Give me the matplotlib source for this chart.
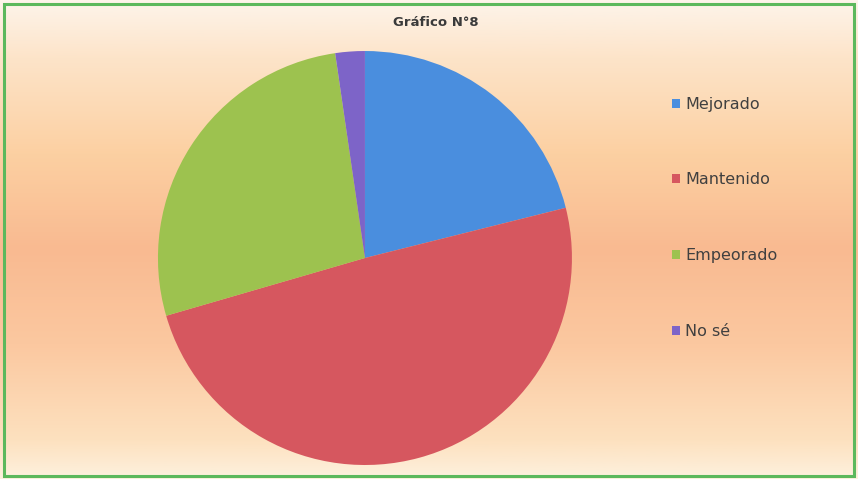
import numpy as np
import matplotlib.pyplot as plt
from matplotlib.colors import LinearSegmentedColormap
from matplotlib.patches import Rectangle

categorias = ["Mejorado", "Mantenido", "Empeorado", "No sé"]
valores = [21.1, 49.4, 27.2, 2.3]
colores = ["#4a8ede", "#d6575f", "#9dc24f", "#7d64c8"]
titulo = "Gráfico N°8"

plt.rcParams['font.family'] = ['DejaVu Sans']

fig = plt.figure(figsize=(8.58, 4.79), dpi=100)

# fondo degradado
bg = fig.add_axes([0, 0, 1, 1])
fondo = LinearSegmentedColormap.from_list("fondo", [
    (0.0, "#fdf4ea"), (0.12, "#fde4c9"), (0.32, "#fcd0a2"),
    (0.52, "#f9ba91"), (0.72, "#fbc8a0"), (0.92, "#fde1bf"), (1.0, "#fdf1de")])
grad = np.linspace(0, 1, 256).reshape(-1, 1)
bg.imshow(grad, aspect='auto', cmap=fondo, extent=[0, 1, 0, 1], origin='upper')
bg.add_patch(Rectangle((0.005, 0.006), 0.99, 0.986, fill=False, edgecolor="#5cb85c", linewidth=2.2))
bg.set_xlim(0, 1)
bg.set_ylim(0, 1)
bg.axis('off')

ax = fig.add_axes([0.1841, 0.0292, 0.4825, 0.8643])
wedges, _ = ax.pie(valores, colors=colores, startangle=90, counterclock=False,
                   wedgeprops=dict(linewidth=0))
ax.set_xlim(-1.0, 1.0)
ax.set_ylim(-1.0, 1.0)
ax.set_aspect('equal')

fig.text(0.508, 0.952, titulo, ha='center', va='center', fontsize=9.5, fontweight='bold', color="#3a3a3a")

leg = fig.legend(wedges, categorias, loc='upper left', bbox_to_anchor=(0.766, 0.828),
                 frameon=False, fontsize=11.5, labelspacing=3.8, handlelength=0.5,
                 handleheight=0.5, handletextpad=0.35, labelcolor="#404040")

fig.savefig("out.png", dpi=100)
